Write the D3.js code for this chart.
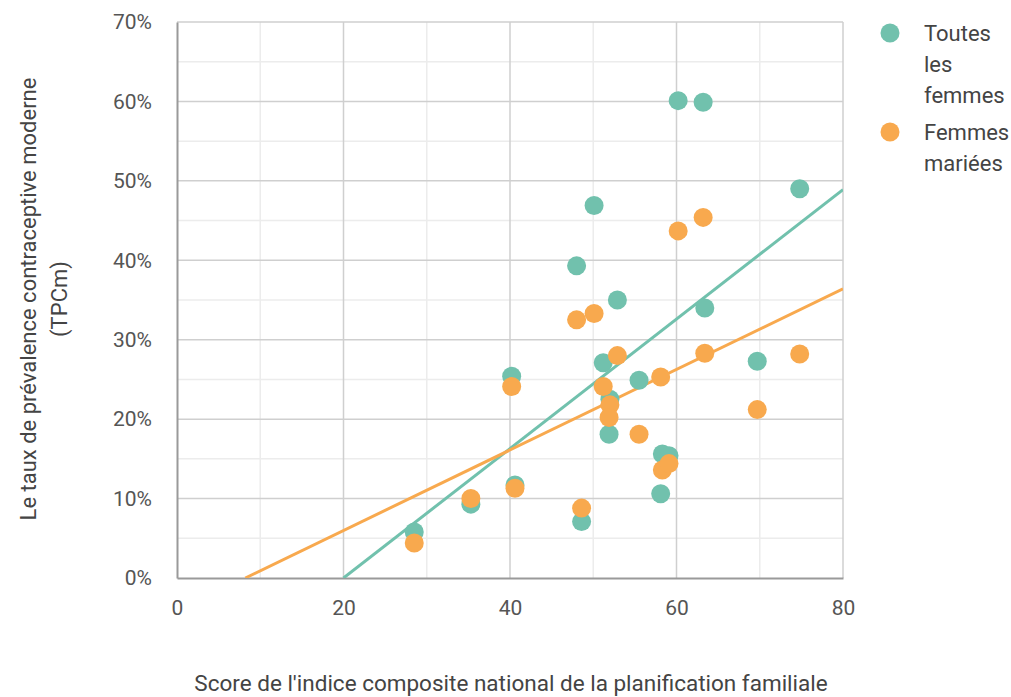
<!DOCTYPE html>
<html><head><meta charset="utf-8">
<script src="https://cdn.jsdelivr.net/npm/d3@7"></script>
<style>body{margin:0;background:#fff}svg{display:block;font-family:Roboto,"Noto Sans",sans-serif}</style>
</head><body><svg id="c" width="1011" height="697"></svg>
<script>
const seriesNames = ["Toutes les femmes", "Femmes mariées"];
const colors = ["#71c1ad", "#f8a94e"];
const scoreX = [28.5,35.3,40.2,40.6,48.0,48.6,50.1,51.2,52.0,51.9,52.9,55.5,58.1,58.3,59.1,60.2,63.2,63.4,69.7,74.8];
const toutesY = [5.8,9.3,25.4,11.7,39.3,7.1,46.9,27.1,22.5,18.1,35.0,24.9,10.6,15.6,15.4,60.1,59.9,34.0,27.3,49.0];
const marieesY = [4.4,10.0,24.1,11.3,32.5,8.8,33.3,24.1,21.8,20.2,28.0,18.1,25.3,13.6,14.4,43.7,45.4,28.3,21.2,28.2];
// trend lines: [slope, intercept] (% per score point)
const trendToutes = [0.815, -16.3];
const trendMariees = [0.507, -4.16];
const xTicks = [0,20,40,60,80];
const yTicks = [0,10,20,30,40,50,60,70];

const svg = d3.select("#c");
const L=177,R=843,T=22,B=578;
const x = d3.scaleLinear().domain([0,80]).range([L,R]);
const y = d3.scaleLinear().domain([0,70]).range([B,T]);

const g = svg.append("g");
// minor grid
g.selectAll(".mx").data(d3.range(10,80,20)).enter().append("line")
 .attr("x1",d=>x(d)).attr("x2",d=>x(d)).attr("y1",T).attr("y2",B).attr("stroke","#ececec").attr("stroke-width",1.5);
g.selectAll(".my").data(d3.range(5,70,10)).enter().append("line")
 .attr("y1",d=>y(d)).attr("y2",d=>y(d)).attr("x1",L).attr("x2",R).attr("stroke","#ececec").attr("stroke-width",1.5);
// major grid
g.selectAll(".Mx").data(xTicks.slice(1)).enter().append("line")
 .attr("x1",d=>x(d)).attr("x2",d=>x(d)).attr("y1",T).attr("y2",B).attr("stroke","#cfcfcf").attr("stroke-width",1.5);
g.selectAll(".My").data(yTicks.slice(1)).enter().append("line")
 .attr("y1",d=>y(d)).attr("y2",d=>y(d)).attr("x1",L).attr("x2",R).attr("stroke","#cfcfcf").attr("stroke-width",1.5);

// axes
const xa = svg.append("g").attr("transform",`translate(0,${B})`)
 .call(d3.axisBottom(x).tickValues(xTicks).tickSize(0).tickPadding(22));
const ya = svg.append("g").attr("transform",`translate(${L},0)`)
 .call(d3.axisLeft(y).tickValues(yTicks).tickSize(0).tickPadding(25).tickFormat(d=>d+"%"));
[xa,ya].forEach(a=>{a.select(".domain").attr("stroke","#9a9a9a").attr("stroke-width",2);
 a.selectAll("text").attr("fill","#555").attr("font-size",21).attr("font-family","Roboto");});
xa.selectAll("text").attr("dy","0.71em");

// trend lines
svg.append("clipPath").attr("id","pc").append("rect").attr("x",L).attr("y",T).attr("width",R-L).attr("height",B-T);
function trend(t,c){
  const x0 = Math.max(0,-t[1]/t[0]);
  svg.append("line").attr("clip-path","url(#pc)")
   .attr("x1",x(x0)).attr("y1",y(t[0]*x0+t[1])).attr("x2",x(80)).attr("y2",y(t[0]*80+t[1]))
   .attr("stroke",c).attr("stroke-width",3);
}
trend(trendToutes,colors[0]);
trend(trendMariees,colors[1]);

// points
svg.append("g").selectAll("circle").data(scoreX).enter().append("circle")
 .attr("cx",d=>x(d)).attr("cy",(d,i)=>y(toutesY[i])).attr("r",9.5).attr("fill",colors[0]);
svg.append("g").selectAll("circle").data(scoreX).enter().append("circle")
 .attr("cx",d=>x(d)).attr("cy",(d,i)=>y(marieesY[i])).attr("r",9.5).attr("fill",colors[1]);

// legend
const leg = [{c:colors[0],lines:["Toutes","les","femmes"],y:33},{c:colors[1],lines:["Femmes","mariées"],y:132}];
leg.forEach(l=>{
  svg.append("circle").attr("cx",890).attr("cy",l.y).attr("r",9.5).attr("fill",l.c);
  l.lines.forEach((s,i)=>svg.append("text").attr("x",924).attr("y",l.y+i*31).attr("dy","0.35em")
    .attr("font-size",22).attr("fill","#444").text(s));
});

// axis titles
svg.append("text").attr("x",511).attr("y",683).attr("text-anchor","middle").attr("dy","0.35em")
 .attr("font-size",22.5).attr("fill","#444").text("Score de l'indice composite national de la planification familiale");
const yt = svg.append("text").attr("transform","translate(0,299) rotate(-90)").attr("text-anchor","middle")
 .attr("font-size",22).attr("fill","#444");
yt.append("tspan").attr("x",0).attr("y",36).text("Le taux de prévalence contraceptive moderne");
yt.append("tspan").attr("x",0).attr("y",67).text("(TPCm)");
</script></body></html>
